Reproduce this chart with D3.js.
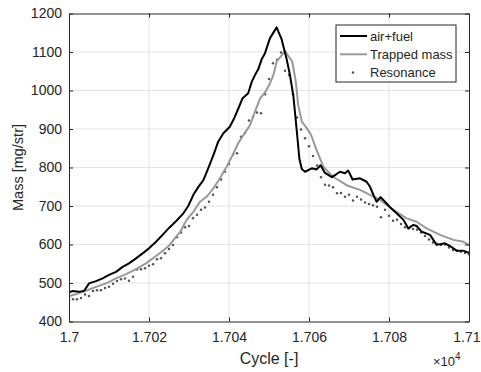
<!DOCTYPE html>
<html>
<head>
<meta charset="utf-8">
<script src="https://cdn.jsdelivr.net/npm/d3@7"></script>
<style>
  body { margin: 0; background: #fff; }
  text { font-family: "Liberation Sans", Arial, sans-serif; fill: #262626; }
</style>
</head>
<body>
<div id="chart"></div>
<script>
// air+fuel (black)
var airFuelCycle = [17000, 17000.75, 17002.6, 17003.8, 17005, 17006.75, 17008.4, 17010, 17011.75, 17013.4,
  17015, 17016.75, 17018.4, 17020, 17021.75, 17023.4, 17025, 17026.8, 17028.6, 17029.8,
  17031.1, 17032.3, 17033.6, 17034.8, 17036.1, 17037.3, 17038.6, 17040.2, 17041.3, 17042.2,
  17043.4, 17044.8, 17045.7, 17046.5, 17047.3, 17048.2, 17049, 17050.25, 17051.9, 17053.1,
  17054.4, 17055.25, 17056.1, 17056.9, 17057.6, 17058.2, 17059, 17060.7, 17061.9, 17062.9,
  17064, 17065.7, 17066.9, 17067.75, 17069, 17069.8, 17070.9, 17072.75, 17074.4, 17075.25,
  17076.1, 17076.9, 17077.9, 17079, 17080.25, 17081.9, 17083.6, 17084.8, 17086.1, 17086.9,
  17088.2, 17090.25, 17091.9, 17094, 17095.25, 17096.9, 17098.6, 17099.8, 17100];
var airFuel = [475, 479, 477, 480, 499, 505, 512, 521, 529, 542,
  551, 564, 577, 590, 607, 625, 643, 661, 681, 700,
  729, 749, 767, 798, 832, 867, 889, 906, 928, 950,
  980, 993, 1023, 1040, 1055, 1082, 1097, 1136, 1164, 1135,
  1082, 1040, 985, 900, 822, 796, 789, 798, 795, 806,
  786, 775, 783, 789, 785, 792, 769, 772, 763, 750,
  729, 711, 723, 711, 697, 681, 664, 642, 651, 648,
  633, 625, 599, 603, 596, 584, 584, 579, 579];

// trapped mass (grey)
var trappedCycle = [17000, 17001.75, 17004.25, 17006.75, 17009.25, 17011.75, 17014.25, 17016.75, 17019.25, 17021.75,
  17023.4, 17025, 17026.3, 17027.75, 17029.4, 17031.1, 17032.75, 17034.4, 17036.1, 17037.75,
  17039.4, 17040.7, 17042.3, 17043.6, 17045.25, 17046.5, 17047.75, 17049, 17050.25, 17051.1,
  17051.9, 17053.2, 17054, 17054.8, 17055.8, 17056.7, 17057.3, 17058.2, 17059.4, 17060.5,
  17061.9, 17063.6, 17066, 17069.4, 17072.75, 17075.25, 17077.75, 17081.1, 17084.4, 17086.9,
  17089.4, 17092.75, 17096.1, 17098.6, 17100];
var trapped = [466, 471, 480, 490, 499, 512, 523, 536, 551, 570,
  583, 597, 614, 632, 664, 685, 711, 724, 746, 772,
  802, 828, 863, 884, 910, 945, 979, 995, 1019, 1040,
  1075, 1092, 1103, 1090, 1076, 1023, 962, 919, 903, 885,
  845, 802, 776, 754, 742, 729, 716, 690, 668, 659,
  642, 625, 612, 607, 599];

// resonance (dots, one per cycle from 17000)
var resonanceStart = 17000;
var resonance = [463, 458, 458, 461, 470, 466, 479, 481, 481, 487,
  490, 498, 505, 510, 512, 506, 516, 535, 536, 538,
  545, 549, 562, 564, 577, 588, 599, 619, 631, 645,
  648, 668, 677, 690, 696, 711, 729, 749, 769, 789,
  809, 834, 837, 880, 890, 922, 932, 943, 941, 990,
  1030, 1071, 1080, 1099, 1051, 1040, 990, 930, 899, 876,
  855, 830, 805, 775, 755, 753, 749, 733, 734, 724,
  729, 714, 724, 717, 709, 705, 702, 698, 671, 690,
  675, 662, 664, 653, 645, 642, 640, 638, 631, 622,
  613, 605, 602, 599, 600, 592, 586, 584, 581, 578, 575];

var xTicks = [17000, 17020, 17040, 17060, 17080, 17100];
var xTickLabels = ["1.7", "1.702", "1.704", "1.706", "1.708", "1.71"];
var yTicks = [400, 500, 600, 700, 800, 900, 1000, 1100, 1200];

var width = 481, height = 372;
var margin = {left: 69, right: 12, top: 13.5, bottom: 50.5};
var pw = width - margin.left - margin.right;
var ph = height - margin.top - margin.bottom;

var svg = d3.select("#chart").append("svg")
    .attr("width", width)
    .attr("height", height)
    .style("display", "block");

svg.append("rect").attr("width", width).attr("height", height).attr("fill", "#fff");

var x = d3.scaleLinear().domain([17000, 17100]).range([0, pw]);
var y = d3.scaleLinear().domain([400, 1200]).range([ph, 0]);

var g = svg.append("g").attr("transform", "translate(" + margin.left + "," + margin.top + ")");

// grid
g.append("g").selectAll("line").data(xTicks.slice(1, -1)).enter().append("line")
    .attr("x1", function(d) { return x(d); }).attr("x2", function(d) { return x(d); })
    .attr("y1", 0).attr("y2", ph)
    .attr("stroke", "#e3e3e3").attr("stroke-width", 1);
g.append("g").selectAll("line").data(yTicks.slice(1, -1)).enter().append("line")
    .attr("y1", function(d) { return y(d); }).attr("y2", function(d) { return y(d); })
    .attr("x1", 0).attr("x2", pw)
    .attr("stroke", "#e3e3e3").attr("stroke-width", 1);

// lines
svg.append("clipPath").attr("id", "clip").append("rect").attr("width", pw).attr("height", ph);
var plot = g.append("g").attr("clip-path", "url(#clip)");

var dots = resonance.map(function(v, i) { return [resonanceStart + i, v]; });
plot.selectAll("circle.res").data(dots).enter().append("circle")
    .attr("class", "res")
    .attr("cx", function(d) { return x(d[0]); })
    .attr("cy", function(d) { return y(d[1]); })
    .attr("r", 1.25)
    .attr("fill", "#555");

var line = d3.line()
    .x(function(d) { return x(d[0]); })
    .y(function(d) { return y(d[1]); });

plot.append("path")
    .datum(d3.zip(trappedCycle, trapped))
    .attr("d", line)
    .attr("fill", "none")
    .attr("stroke", "#999")
    .attr("stroke-width", 2)
    .attr("stroke-linejoin", "round");

plot.append("path")
    .datum(d3.zip(airFuelCycle, airFuel))
    .attr("d", line)
    .attr("fill", "none")
    .attr("stroke", "#000")
    .attr("stroke-width", 2)
    .attr("stroke-linejoin", "round");

// axes
var xAxis = d3.axisBottom(x).tickValues(xTicks)
    .tickFormat(function(d, i) { return xTickLabels[i]; })
    .tickSizeInner(-4).tickSizeOuter(0).tickPadding(11);
var xAxisTop = d3.axisTop(x).tickValues(xTicks).tickFormat("").tickSizeInner(-4).tickSizeOuter(0);
var yAxis = d3.axisLeft(y).tickValues(yTicks).tickFormat(d3.format("d"))
    .tickSizeInner(-4).tickSizeOuter(0).tickPadding(7);
var yAxisRight = d3.axisRight(y).tickValues(yTicks).tickFormat("").tickSizeInner(-4).tickSizeOuter(0);

var gx = g.append("g").attr("transform", "translate(0," + ph + ")").call(xAxis);
var gxt = g.append("g").call(xAxisTop);
var gy = g.append("g").call(yAxis);
var gyr = g.append("g").attr("transform", "translate(" + pw + ",0)").call(yAxisRight);

[gx, gxt, gy, gyr].forEach(function(a) {
  a.select(".domain").attr("stroke", "#262626");
  a.selectAll(".tick line").attr("stroke", "#262626");
  a.selectAll("text").attr("font-size", "14px").attr("fill", "#262626")
    .attr("font-family", "Liberation Sans, Arial, sans-serif");
});
gx.selectAll("text").attr("dy", "0.71em");
// keep the last label inside the window
gx.selectAll(".tick").filter(function(d) { return d === 17100; }).select("text")
    .attr("text-anchor", "end").attr("x", 11);

// axis labels
g.append("text")
    .attr("x", pw / 2).attr("y", ph + 42)
    .attr("text-anchor", "middle")
    .attr("font-size", "16px")
    .text("Cycle [-]");

var mult = g.append("text")
    .attr("x", pw - 36).attr("y", ph + 44)
    .attr("font-size", "13px");
mult.append("tspan").text("\u00d710");
mult.append("tspan").attr("dy", -6).attr("font-size", "10px").text("4");

g.append("text")
    .attr("transform", "translate(" + (-46) + "," + (ph / 2) + ") rotate(-90)")
    .attr("text-anchor", "middle")
    .attr("font-size", "14.5px")
    .text("Mass [mg/str]");

// legend
var legend = svg.append("g").attr("transform", "translate(336,25)");
legend.append("rect")
    .attr("width", 120).attr("height", 57)
    .attr("fill", "#fff").attr("stroke", "#262626").attr("stroke-width", 1);

var legendItems = [
  {name: "air+fuel", color: "#000", type: "line"},
  {name: "Trapped mass", color: "#999", type: "line"},
  {name: "Resonance", color: "#555", type: "dot"}
];
var li = legend.selectAll("g.item").data(legendItems).enter().append("g")
    .attr("class", "item")
    .attr("transform", function(d, i) { return "translate(0," + (11 + i * 18.3) + ")"; });
li.filter(function(d) { return d.type === "line"; }).append("line")
    .attr("x1", 4).attr("x2", 31).attr("y1", 0).attr("y2", 0)
    .attr("stroke", function(d) { return d.color; }).attr("stroke-width", 2);
li.filter(function(d) { return d.type === "dot"; }).append("circle")
    .attr("cx", 17).attr("cy", 0).attr("r", 1.25)
    .attr("fill", function(d) { return d.color; });
li.append("text")
    .attr("x", 34).attr("y", 0).attr("dy", "0.35em")
    .attr("font-size", "13px")
    .text(function(d) { return d.name; });
</script>
</body>
</html>
